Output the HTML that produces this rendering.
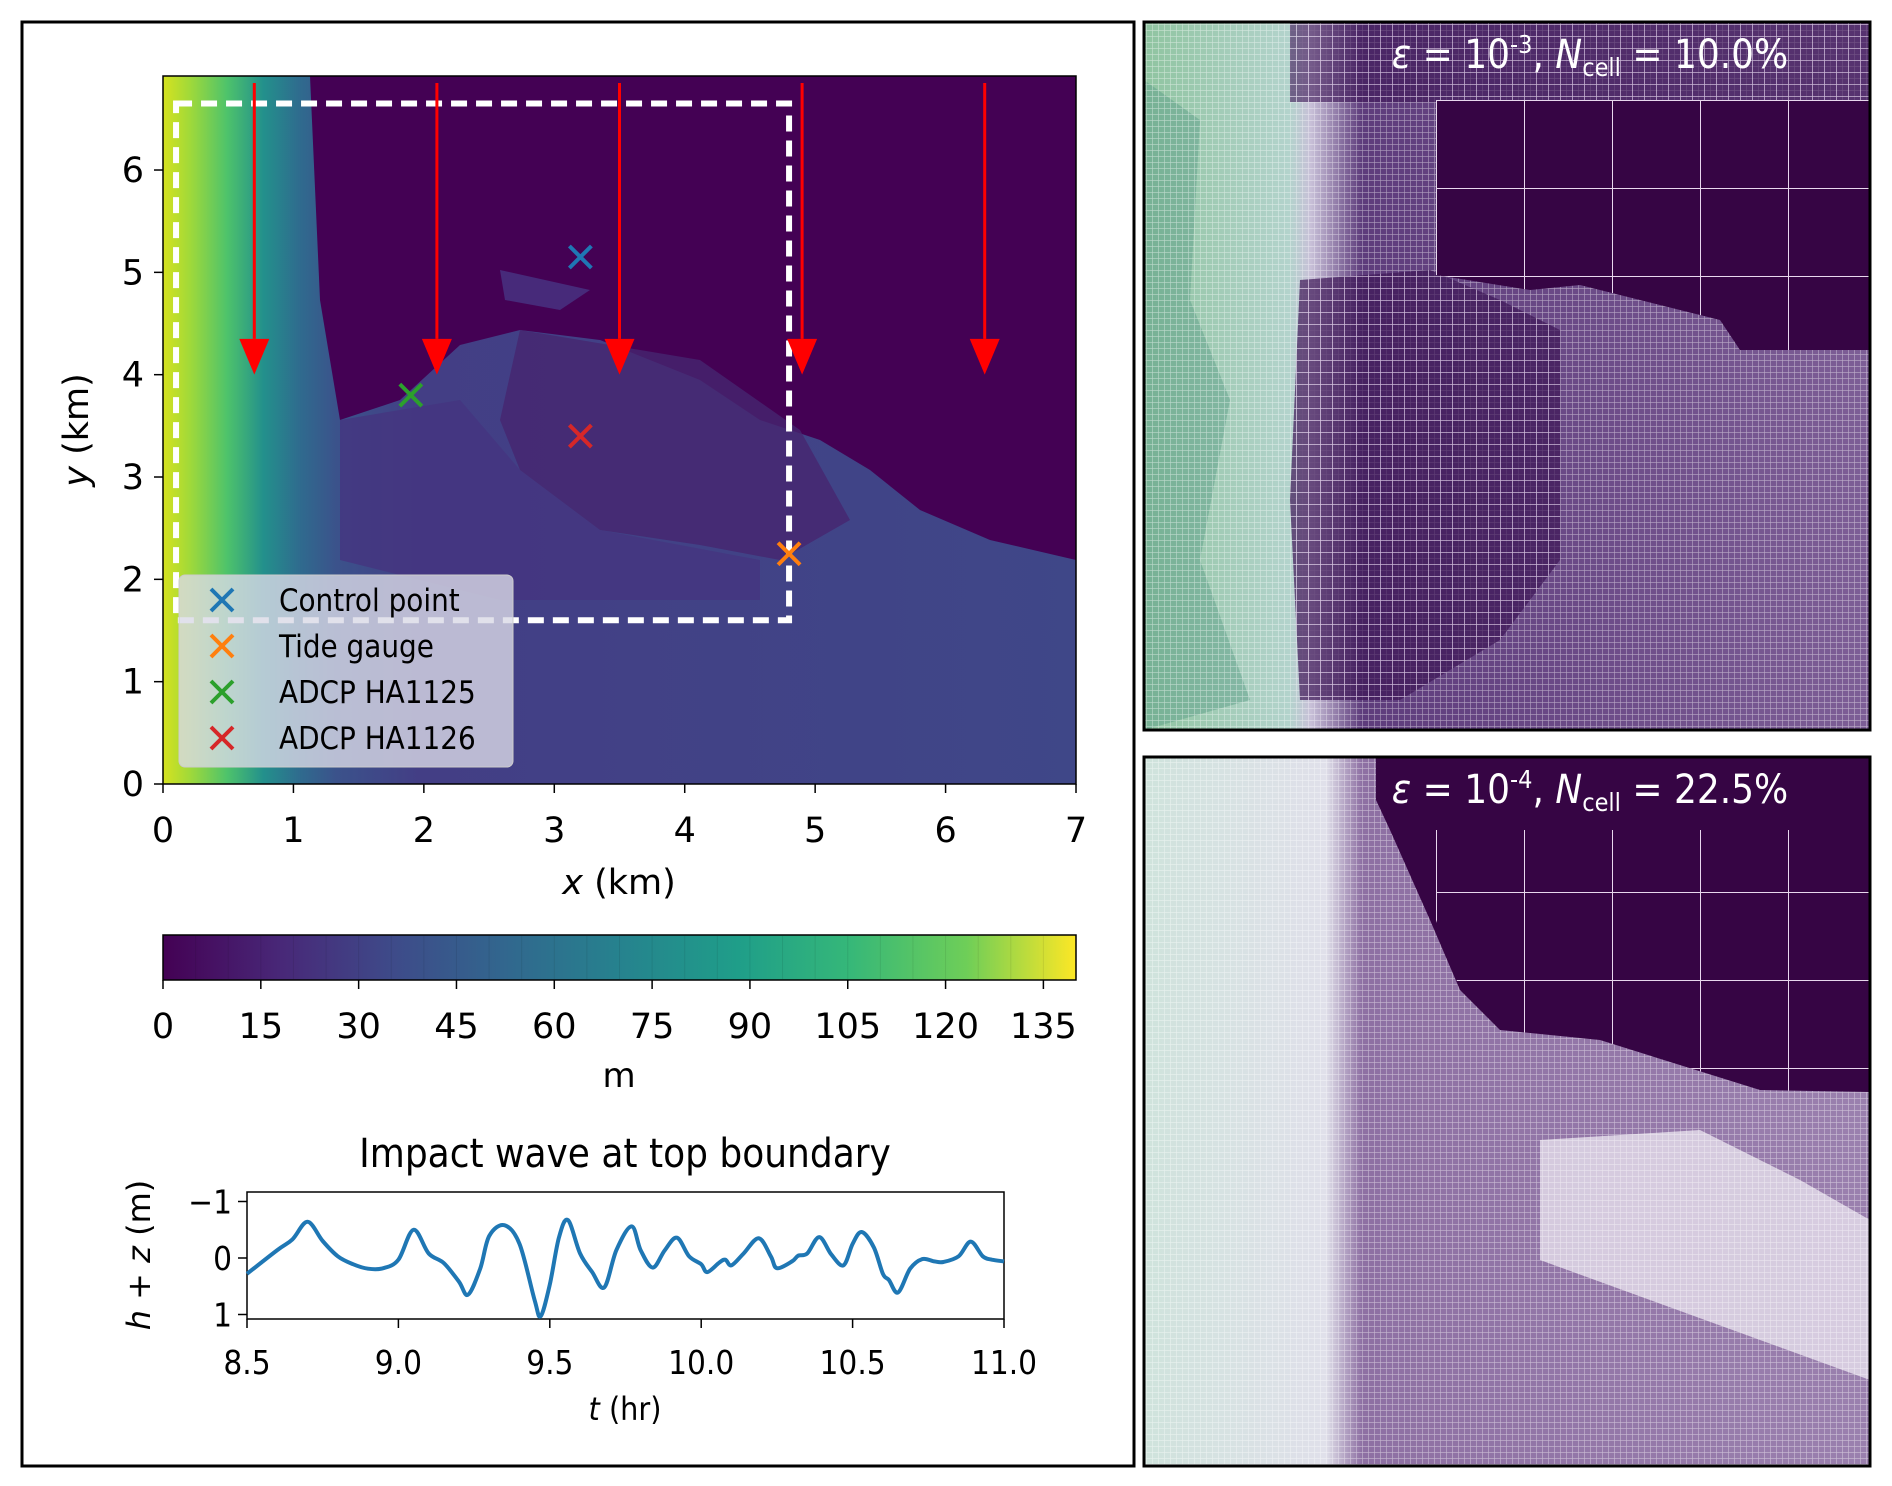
<!DOCTYPE html>
<html><head><meta charset="utf-8">
<style>
html,body{margin:0;padding:0;background:#fff;width:1892px;height:1486px;overflow:hidden}
svg{display:block;font-family:"DejaVu Sans","Liberation Sans",sans-serif}
</style></head>
<body>
<svg id="root" width="1892" height="1486" viewBox="0 0 1892 1486">
<defs>
  <linearGradient id="mapgrad" x1="0" x2="1" y1="0" y2="0">
    <stop offset="0" stop-color="#d6e21f"/>
    <stop offset="0.03" stop-color="#9fd93a"/>
    <stop offset="0.07" stop-color="#4ec36b"/>
    <stop offset="0.11" stop-color="#23908c"/>
    <stop offset="0.15" stop-color="#2f6b8e"/>
    <stop offset="0.19" stop-color="#3b528b"/>
    <stop offset="0.28" stop-color="#433e85"/>
    <stop offset="1" stop-color="#3f4788"/>
  </linearGradient>
  <linearGradient id="cbgrad" x1="0" x2="1">
    <stop offset="0" stop-color="#440154"/>
    <stop offset="0.13" stop-color="#482878"/>
    <stop offset="0.25" stop-color="#3e4a89"/>
    <stop offset="0.38" stop-color="#31688e"/>
    <stop offset="0.5" stop-color="#26828e"/>
    <stop offset="0.63" stop-color="#1f9e89"/>
    <stop offset="0.75" stop-color="#35b779"/>
    <stop offset="0.88" stop-color="#6ece58"/>
    <stop offset="1" stop-color="#fde725"/>
  </linearGradient>
  <linearGradient id="r1grad" x1="0" x2="1">
    <stop offset="0" stop-color="#8fc4a0"/>
    <stop offset="0.2" stop-color="#b3d3cc"/>
    <stop offset="0.23" stop-color="#c8c0d8"/>
    <stop offset="0.3" stop-color="#5e3c7c"/>
    <stop offset="1" stop-color="#7d5e96"/>
  </linearGradient>
  <linearGradient id="r2grad" x1="0" x2="1">
    <stop offset="0" stop-color="#cfe3dc"/>
    <stop offset="0.25" stop-color="#e0e0ea"/>
    <stop offset="0.3" stop-color="#8e70a3"/>
    <stop offset="1" stop-color="#9a80ae"/>
  </linearGradient>
  <pattern id="grid" width="6" height="6" patternUnits="userSpaceOnUse">
    <path d="M6 0H0V6" fill="none" stroke="#ffffff" stroke-opacity="0.5" stroke-width="1.2"/>
  </pattern>
  <pattern id="midgrid" width="12" height="12" patternUnits="userSpaceOnUse">
    <rect width="12" height="12" fill="#3d1656"/>
    <path d="M12 0H0V12" fill="none" stroke="#d8c4e2" stroke-width="1.6"/>
  </pattern>
  <pattern id="bigcell" width="88" height="88" patternUnits="userSpaceOnUse" x="1436" y="100">
    <path d="M88 0H0V88" fill="none" stroke="#e8d8ee" stroke-width="2"/>
  </pattern>
  <clipPath id="mapclip"><rect x="163" y="76" width="913" height="708"/></clipPath>
</defs>

<rect x="22" y="22" width="1112" height="1444" fill="#fff" stroke="#000" stroke-width="3"/>

<g clip-path="url(#mapclip)">
  <rect x="163" y="76" width="913" height="708" fill="url(#mapgrad)"/>
  <path d="M310 76 L1076 76 L1076 560 L990 540 L920 510 L870 470 L820 440 L760 420 L700 380 L600 340 L520 330 L460 345 L400 400 L340 420 L320 300 Z" fill="#440154"/>
  <path d="M520 330 L700 360 L800 430 L850 520 L780 560 L700 545 L600 530 L520 470 L500 420 Z" fill="#46256f" opacity="0.8"/>
  <path d="M340 420 L460 400 L520 470 L600 530 L760 560 L760 600 L500 600 L340 560 Z" fill="#453580" opacity="0.8"/>
  <path d="M500 270 L590 290 L560 310 L505 300 Z" fill="#472a7a"/>
</g>
<rect x="163" y="76" width="913" height="708" fill="none" stroke="#000" stroke-width="1.5"/>

<g id="mapmarks"></g>

<rect x="163" y="935" width="913" height="45" fill="url(#cbgrad)" stroke="#000" stroke-width="1.5"/>
<g id="cbticks"></g>
<text x="619" y="1087" font-size="34" text-anchor="middle">m</text>

<text x="625" y="1167" font-size="40" text-anchor="middle" font-family="DejaVu Sans Condensed, DejaVu Sans, sans-serif">Impact wave at top boundary</text>
<g id="wave"></g>

<g>
  <rect x="1144" y="22" width="726" height="708" fill="url(#r1grad)"/>
  <path d="M1144 80 L1200 120 L1190 300 L1230 400 L1200 560 L1250 700 L1144 730Z" fill="#5fa08a" opacity="0.5"/>
  <rect x="1144" y="22" width="726" height="708" fill="url(#grid)"/>
  <path d="M1300 280 L1430 270 L1500 300 L1560 330 L1560 560 L1500 640 L1400 700 L1300 700 L1290 500Z" fill="url(#midgrid)" opacity="0.7"/>
  <rect x="1290" y="22" width="580" height="80" fill="url(#midgrid)" opacity="0.6"/>
  <path d="M1436 100 L1870 100 L1870 350 L1740 350 L1720 320 L1640 300 L1580 285 L1530 290 L1436 275 Z" fill="#360544"/>
  <path d="M1436 100 L1870 100 L1870 350 L1740 350 L1720 320 L1640 300 L1580 285 L1530 290 L1436 275 Z" fill="url(#bigcell)"/>
  <rect x="1144" y="22" width="726" height="708" fill="none" stroke="#000" stroke-width="3"/>
  <text x="1590" y="68" font-size="40" fill="#fff" text-anchor="middle" font-family="DejaVu Sans Condensed, DejaVu Sans, sans-serif"><tspan font-style="italic">ε</tspan> = 10<tspan font-size="25" dy="-15">-3</tspan><tspan dy="15">, </tspan><tspan font-style="italic">N</tspan><tspan font-size="25" dy="8">cell</tspan><tspan dy="-8"> = 10.0%</tspan></text>
</g>

<g>
  <rect x="1144" y="757" width="726" height="709" fill="url(#r2grad)"/>
  <path d="M1540 1140 L1700 1130 L1800 1180 L1870 1220 L1870 1380 L1650 1300 L1540 1260Z" fill="#e6e0ec" opacity="0.8"/>
  <rect x="1144" y="757" width="726" height="709" fill="url(#grid)"/>
  <path d="M1376 757 L1870 757 L1870 1092 L1760 1090 L1600 1040 L1500 1030 L1460 990 L1430 920 L1390 830 L1376 800Z" fill="#360544"/>
  <path d="M1436 830 L1870 830 L1870 1092 L1760 1090 L1600 1040 L1500 1030 L1460 990 L1436 920Z" fill="url(#bigcell)"/>
  <rect x="1144" y="757" width="726" height="709" fill="none" stroke="#000" stroke-width="3"/>
  <text x="1590" y="803" font-size="40" fill="#fff" text-anchor="middle" font-family="DejaVu Sans Condensed, DejaVu Sans, sans-serif"><tspan font-style="italic">ε</tspan> = 10<tspan font-size="25" dy="-15">-4</tspan><tspan dy="15">, </tspan><tspan font-style="italic">N</tspan><tspan font-size="25" dy="8">cell</tspan><tspan dy="-8"> = 22.5%</tspan></text>
</g>
</svg>

<script>
const mapXTicks = [0,1,2,3,4,5,6,7];
const mapYTicks = [0,1,2,3,4,5,6];
const arrowX = [0.7,2.1,3.5,4.9,6.3];
const markerNames = ["Control point","Tide gauge","ADCP HA1125","ADCP HA1126"];
const markerX = [3.2,4.8,1.9,3.2];
const markerY = [5.15,2.25,3.8,3.4];
const markerColors = ["#1f77b4","#ff7f0e","#2ca02c","#d62728"];
const boxX = [0.1,4.8];
const boxY = [1.6,6.65];
const cbTicks = [0,15,30,45,60,75,90,105,120,135];
const cbMax = 140;
const waveT = [8.5,8.6,8.65,8.7,8.75,8.8,8.85,8.9,8.95,9.0,9.05,9.1,9.15,9.2,9.23,9.27,9.3,9.35,9.4,9.45,9.47,9.5,9.53,9.56,9.6,9.64,9.68,9.72,9.77,9.8,9.84,9.88,9.92,9.96,10.0,10.02,10.06,10.08,10.1,10.14,10.19,10.23,10.25,10.3,10.32,10.35,10.39,10.43,10.47,10.5,10.53,10.57,10.6,10.62,10.65,10.69,10.73,10.77,10.8,10.85,10.89,10.93,10.96,11.0];
const waveH = [0.28,-0.14,-0.33,-0.64,-0.3,-0.03,0.11,0.19,0.18,0.03,-0.5,-0.08,0.09,0.42,0.65,0.19,-0.39,-0.58,-0.25,0.75,1.03,0.47,-0.36,-0.67,-0.08,0.25,0.52,-0.14,-0.56,-0.14,0.17,-0.14,-0.36,-0.03,0.11,0.25,0.08,0.03,0.13,-0.08,-0.35,-0.03,0.18,0.06,-0.04,-0.08,-0.37,-0.06,0.13,-0.25,-0.46,-0.19,0.28,0.39,0.61,0.19,0.02,0.06,0.07,-0.03,-0.29,-0.03,0.03,0.06];
const waveXTicks = [8.5,9.0,9.5,10.0,10.5,11.0];
const waveXLabels = ["8.5","9.0","9.5","10.0","10.5","11.0"];
const waveYTicks = [-1,0,1];
const waveYLabels = ["\u22121","0","1"];

const NS="http://www.w3.org/2000/svg";
function mk(tag,attrs,parent,text){const e=document.createElementNS(NS,tag);for(const k in attrs)e.setAttribute(k,attrs[k]);if(text!==undefined)e.textContent=text;parent.appendChild(e);return e;}

const mx=v=>163+v*130.43, my=v=>784-v*102.33;
const mm=document.getElementById('mapmarks');
let b=mk('rect',{x:mx(boxX[0]),y:my(boxY[1]),width:mx(boxX[1])-mx(boxX[0]),height:my(boxY[0])-my(boxY[1]),fill:'none',stroke:'#fff','stroke-width':6,'stroke-dasharray':'16,9'},mm);


arrowX.forEach((v,i)=>{
  const g=mk('g',{},mm);
  
  
  const x=mx(v);
  mk('line',{x1:x,y1:my(6.85),x2:x,y2:my(4.35),stroke:'#ff0000','stroke-width':3},g);
  mk('path',{d:`M${x-15} ${my(4.35)} L${x+15} ${my(4.35)} L${x} ${my(4.0)} Z`,fill:'#ff0000'},g);
});
function cross(x,y,s,c,p,w){mk('path',{d:`M${x-s} ${y-s}L${x+s} ${y+s}M${x-s} ${y+s}L${x+s} ${y-s}`,stroke:c,'stroke-width':w||4,fill:'none'},p);}
markerX.forEach((v,i)=>{
  const g=mk('g',{},mm);
  
  
  cross(mx(v),my(markerY[i]),11,markerColors[i],g);
});
const lg=mk('g',{},mm);


mk('rect',{x:179,y:575,width:334,height:192,rx:6,fill:'#d9d9e6','fill-opacity':0.8,stroke:'#cccccc'},lg);
markerNames.forEach((n,i)=>{
  const y=600+i*46;
  cross(222,y,11,markerColors[i],lg);
  const t=mk('text',{x:279,y:y+11,'font-size':31,'font-family':'DejaVu Sans Condensed, DejaVu Sans, sans-serif'},lg,n);
  
  
});
mapXTicks.forEach(v=>{
  mk('line',{x1:mx(v),y1:784,x2:mx(v),y2:793,stroke:'#000','stroke-width':1.5},mm);
  const t=mk('text',{x:mx(v),y:842,'font-size':35,'text-anchor':'middle'},mm,String(v));
  
  
});
mapYTicks.forEach(v=>{
  mk('line',{x1:154,y1:my(v),x2:163,y2:my(v),stroke:'#000','stroke-width':1.5},mm);
  const t=mk('text',{x:144,y:my(v)+12,'font-size':35,'text-anchor':'end'},mm,String(v));
  
  
});
let xl=mk('text',{x:619,y:894,'font-size':35,'text-anchor':'middle'},mm);
xl.innerHTML='<tspan font-style="italic">x</tspan> (km)';


let yl=mk('text',{x:0,y:0,'font-size':35,'text-anchor':'middle',transform:'translate(88,430) rotate(-90)'},mm);
yl.innerHTML='<tspan font-style="italic">y</tspan> (km)';



const cb=document.getElementById('cbticks');
const cx=v=>163+v/cbMax*913;
for(let i=1;i<28;i++){mk('line',{x1:cx(i*5),y1:936,x2:cx(i*5),y2:979,stroke:'#000','stroke-opacity':0.08,'stroke-width':1},cb);}
cbTicks.forEach(v=>{
  mk('line',{x1:cx(v),y1:980,x2:cx(v),y2:989,stroke:'#000','stroke-width':1.5},cb);
  const t=mk('text',{x:cx(v),y:1038,'font-size':35,'text-anchor':'middle'},cb,String(v));
  
  
});

const wg=document.getElementById('wave');
const wx=t=>247+(t-8.5)/2.5*757, wy=h=>1258+h*56.5;
mk('rect',{x:247,y:1192,width:757,height:127,fill:'#fff',stroke:'#000','stroke-width':1.5},wg);
const P=waveT.map((t,i)=>[wx(t),wy(waveH[i])]);
let d='M'+P[0][0].toFixed(1)+' '+P[0][1].toFixed(1);
for(let i=0;i<P.length-1;i++){
  const p0=P[Math.max(0,i-1)],p1=P[i],p2=P[i+1],p3=P[Math.min(P.length-1,i+2)];
  const c1=[p1[0]+(p2[0]-p0[0])/6,p1[1]+(p2[1]-p0[1])/6];
  const c2=[p2[0]-(p3[0]-p1[0])/6,p2[1]-(p3[1]-p1[1])/6];
  d+=`C${c1[0].toFixed(1)} ${c1[1].toFixed(1)} ${c2[0].toFixed(1)} ${c2[1].toFixed(1)} ${p2[0].toFixed(1)} ${p2[1].toFixed(1)}`;
}
const ln=mk('path',{d:d,fill:'none',stroke:'#1f77b4','stroke-width':4,'stroke-linejoin':'round'},wg);


waveXTicks.forEach((v,i)=>{
  mk('line',{x1:wx(v),y1:1319,x2:wx(v),y2:1328,stroke:'#000','stroke-width':1.5},wg);
  const t=mk('text',{x:wx(v),y:1374,'font-size':33,'text-anchor':'middle','font-family':'DejaVu Sans Condensed, DejaVu Sans, sans-serif'},wg,waveXLabels[i]);
  
  
});
waveYTicks.forEach((v,i)=>{
  mk('line',{x1:238,y1:wy(v),x2:247,y2:wy(v),stroke:'#000','stroke-width':1.5},wg);
  const t=mk('text',{x:232,y:wy(v)+12,'font-size':33,'text-anchor':'end','font-family':'DejaVu Sans Condensed, DejaVu Sans, sans-serif'},wg,waveYLabels[i]);
  
  
});
let wxl=mk('text',{x:625,y:1420,'font-size':32,'text-anchor':'middle','font-family':'DejaVu Sans Condensed, DejaVu Sans, sans-serif'},wg);
wxl.innerHTML='<tspan font-style="italic">t</tspan> (hr)';


let wyl=mk('text',{x:0,y:0,'font-size':32,'text-anchor':'middle',transform:'translate(150,1255) rotate(-90)'},wg);
wyl.innerHTML='<tspan font-style="italic">h</tspan> + <tspan font-style="italic">z</tspan> (m)';


</script>
</body></html>
